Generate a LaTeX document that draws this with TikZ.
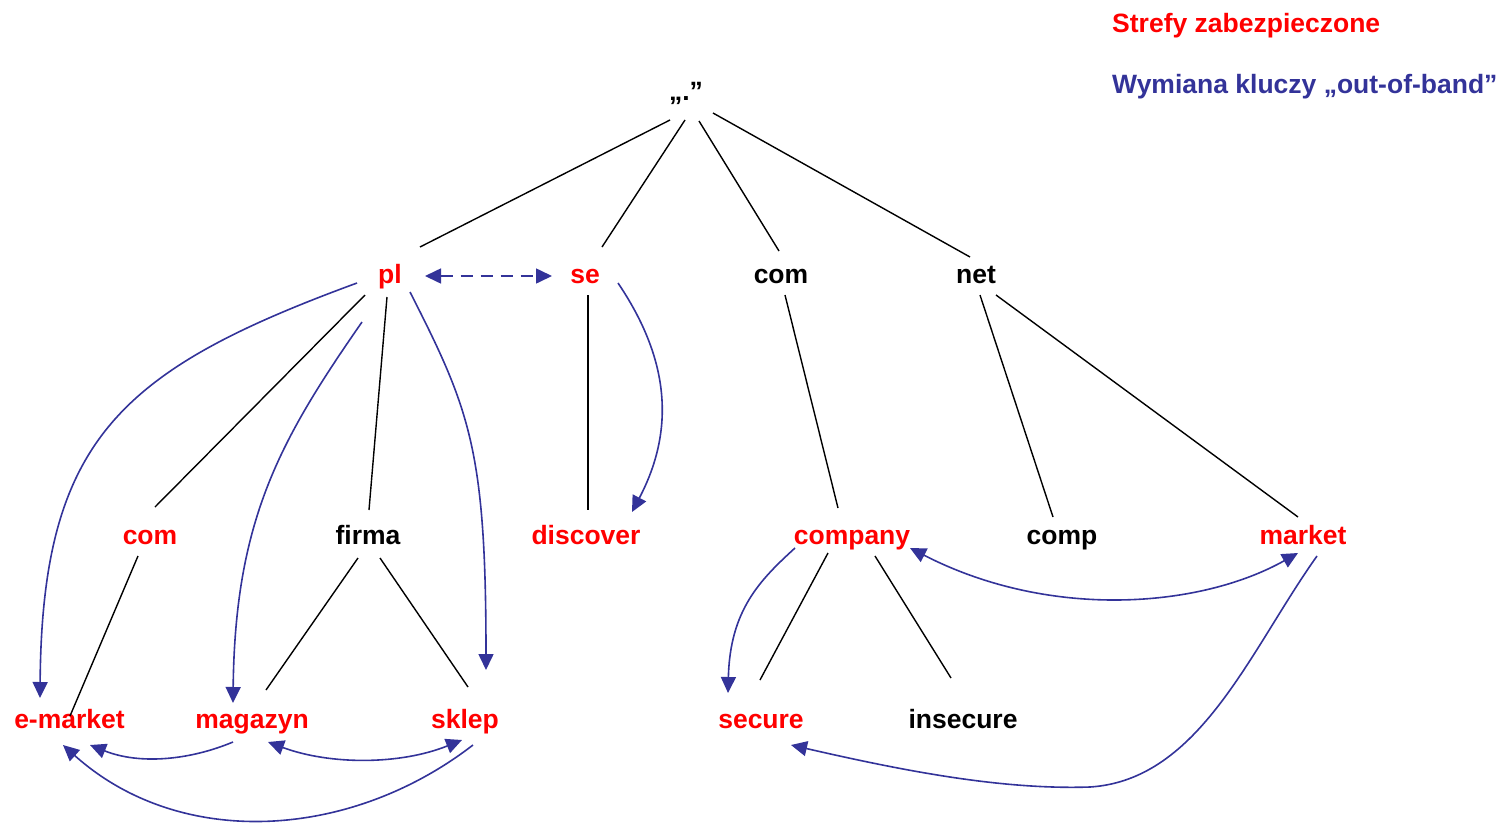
\documentclass[tikz,border=0pt]{standalone}
\usepackage{fontspec}
\setmainfont{Liberation Sans}
\usetikzlibrary{arrows.meta}
\definecolor{zonered}{HTML}{FF0000}
\definecolor{keyblue}{HTML}{333399}
\begin{document}
\begin{tikzpicture}[x=1pt,y=-1pt,
  lbl/.style={anchor=base,inner sep=0pt,font=\fontsize{26.5}{30}\selectfont\bfseries},
  zone/.style={lbl,text=zonered},
  plain/.style={lbl,text=black},
  tree/.style={draw=black,line width=1.4pt},
  oob/.style={draw=keyblue,line width=1.6pt,-{Triangle[length=16pt,width=15pt]}},
  oobboth/.style={oob,{Triangle[length=16pt,width=15pt]}-{Triangle[length=16pt,width=15pt]}}
]
\useasboundingbox (0,0) rectangle (1510,825);

% legend
\node[lbl,anchor=base west,text=zonered] (legA) at (1112,32) {Strefy zabezpieczone};
\node[lbl,anchor=base west,text=keyblue] (legB) at (1112,93) {Wymiana kluczy „out-of-band”};

% domain names
\node[plain] (root) at (686,100) {„.”};
\node[zone]  (pl) at (390,283) {pl};
\node[zone]  (se) at (585,283) {se};
\node[plain] (com) at (781,283) {com};
\node[plain] (net) at (976,283) {net};
\node[zone]  (comL) at (150,544) {com};
\node[plain] (firma) at (368,544) {firma};
\node[zone]  (discover) at (586,544) {discover};
\node[zone]  (company) at (852,544) {company};
\node[plain] (comp) at (1062,544) {comp};
\node[zone]  (market) at (1303,544) {market};
\node[zone]  (emarket) at (69.5,728) {e-market};
\node[zone]  (magazyn) at (252,728) {magazyn};
\node[zone]  (sklep) at (465,728) {sklep};
\node[zone]  (secure) at (761,728) {secure};
\node[plain] (insecure) at (963,728) {insecure};

% delegation tree
\draw[tree] ([shift={(-16,20)}]root.base) -- ([shift={(30,-36)}]pl.base);
\draw[tree] ([shift={(-1,20)}]root.base) -- ([shift={(17,-36)}]se.base);
\draw[tree] ([shift={(13,21)}]root.base) -- ([shift={(-2,-32)}]com.base);
\draw[tree] ([shift={(27,13)}]root.base) -- ([shift={(-6,-26)}]net.base);
\draw[tree] ([shift={(-25,12)}]pl.base) -- ([shift={(5,-37)}]comL.base);
\draw[tree] ([shift={(-3,14)}]pl.base) -- ([shift={(1,-34)}]firma.base);
\draw[tree] ([shift={(3,12)}]se.base) -- ([shift={(2,-34)}]discover.base);
\draw[tree] ([shift={(4,12)}]com.base) -- ([shift={(-14,-36)}]company.base);
\draw[tree] ([shift={(4,12)}]net.base) -- ([shift={(-9,-27)}]comp.base);
\draw[tree] ([shift={(20,12)}]net.base) -- ([shift={(-5,-27)}]market.base);
\draw[tree] ([shift={(-12,12)}]comL.base) -- ([shift={(0.5,-12)}]emarket.base);
\draw[tree] ([shift={(-10,14)}]firma.base) -- ([shift={(14,-38)}]magazyn.base);
\draw[tree] ([shift={(12,14)}]firma.base) -- ([shift={(3,-41)}]sklep.base);
\draw[tree] ([shift={(-24,9)}]company.base) -- ([shift={(-1,-48)}]secure.base);
\draw[tree] ([shift={(23,12)}]company.base) -- ([shift={(-12,-50)}]insecure.base);

% out-of-band key exchange
\draw[oobboth,dash pattern=on 12pt off 8pt] ([shift={(35,-7)}]pl.base) -- ([shift={(-33,-7)}]se.base);
\draw[oob] ([shift={(-33,0)}]pl.base) .. controls (120,370) and (42,440) .. ([shift={(-29.5,-30)}]emarket.base);
\draw[oob] ([shift={(-28,39)}]pl.base) .. controls (280,440) and (235,520) .. ([shift={(-19,-25)}]magazyn.base);
\draw[oob] ([shift={(20,9)}]pl.base) .. controls (470,410) and (486,450) .. ([shift={(21,-58)}]sklep.base);
\draw[oob] ([shift={(33,0)}]se.base) .. controls (670,360) and (675,430) .. ([shift={(46,-32)}]discover.base);
\draw[oob] ([shift={(-19,14)}]magazyn.base) .. controls (190,760) and (140,765) .. ([shift={(20.5,17)}]emarket.base);
\draw[oobboth] ([shift={(16,14)}]magazyn.base) .. controls (330,765) and (400,765) .. ([shift={(-3,12)}]sklep.base);
\draw[oob] ([shift={(8,17)}]sklep.base) .. controls (350,840) and (180,850) .. ([shift={(-6.5,17)}]emarket.base);
\draw[oob] ([shift={(-57,4)}]company.base) .. controls (760,580) and (730,610) .. ([shift={(-33,-35)}]secure.base);
\draw[oobboth] ([shift={(58,4)}]company.base) .. controls (1050,620) and (1200,608) .. ([shift={(-5,9)}]market.base);
\draw[oob] ([shift={(14,12)}]market.base) .. controls (1250,650) and (1200,780) .. (1090,787)
  .. controls (1000,790) and (900,770) .. ([shift={(30,17)}]secure.base);
\end{tikzpicture}
\end{document}
